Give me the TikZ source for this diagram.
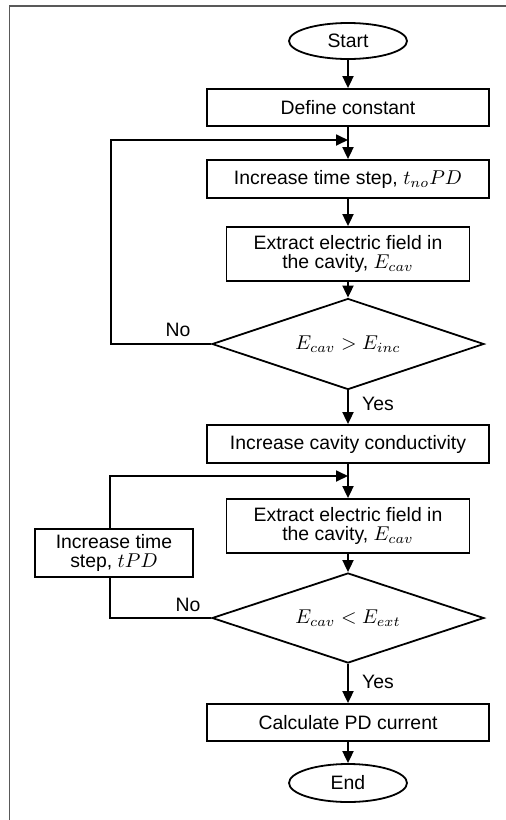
\documentclass[tikz,border=0pt]{standalone}
\usepackage{fontspec}
\setmainfont{Liberation Sans}
\usepackage{tikz}
\usetikzlibrary{shapes.geometric}
\usetikzlibrary{arrows.meta}
\tikzset{>={Triangle[length=6pt,width=5.5pt]}}
\tikzset{
  stepbox/.style={draw, line width=0.9pt, rectangle, align=center, inner sep=0pt,
    minimum height=18.5pt, font=\fontsize{9.7}{9.8}\selectfont},
  endbox/.style={draw, line width=0.9pt, ellipse, inner sep=0pt, minimum width=59pt,
    minimum height=18pt, font=\fontsize{9.7}{9.8}\selectfont},
  testbox/.style={draw, line width=0.9pt, diamond, inner sep=0pt, aspect=3,
    minimum width=136pt, minimum height=45.5pt, font=\fontsize{9.7}{9.8}\selectfont},
  flow/.style={line width=0.9pt, ->},
  answer/.style={font=\fontsize{9.7}{9.8}\selectfont}
}

\begin{document}
\begin{tikzpicture}[x=0.5pt, y=-0.5pt]
                \useasboundingbox (0,0) rectangle (506,820);
                % page frame
                \draw[black!65, line width=0.8pt] (9.5,820) -- (9.5,6) -- (506,6);

                % main column
                \node[endbox] (start) at (348,41) {Start};
                \node[stepbox, minimum width=141pt] (define) at (348,107.5) {Define constant};
                \node[stepbox, minimum width=141pt, minimum height=19pt] (tnopd) at (348,179) {Increase time step, $t_{no}PD$};
                \node[stepbox, minimum width=121.5pt, minimum height=27pt] (field1) at (348,254) {Extract electric field in\\the cavity, $E_{cav}$};
                \node[testbox] (inc) at (348,344) {$E_{cav} > E_{inc}$};
                \node[stepbox, minimum width=141pt, minimum height=19pt] (sigma) at (348,444) {Increase cavity conductivity};
                \node[stepbox, minimum width=121.5pt, minimum height=27pt] (field2) at (348,526) {Extract electric field in\\the cavity, $E_{cav}$};
                \node[testbox, minimum height=45pt] (ext) at (348,618) {$E_{cav} < E_{ext}$};
                \node[stepbox, minimum width=141pt] (pd) at (348,722.5) {Calculate PD current};
                \node[endbox, minimum height=19pt] (end) at (348,783) {End};

                % side box
                \node[stepbox, minimum width=79pt, minimum height=24pt] (tpd) at (114,553) {Increase time\\step, $tPD$};

                % joins and rails
                \coordinate (join1) at (348,140);
                \coordinate (join2) at (348,476);
                \coordinate (rail1) at (111,0);
                \coordinate (rail2) at (110,0);

                % start to define
                \draw[flow] (start) -- (define);
                % define to tnopd
                \draw[flow] (define) -- (tnopd);
                % tnopd to field1
                \draw[flow] (tnopd) -- (field1);
                % field1 to inc
                \draw[flow] (field1) -- (inc);
                % inc to tnopd (No)
                \draw[flow] (inc.west) -- (inc.west -| rail1) |- (join1);
                % inc to sigma (Yes)
                \draw[flow] (inc) -- (sigma);
                % sigma to field2
                \draw[flow] (sigma) -- (field2);
                % field2 to ext
                \draw[flow] (field2) -- (ext);
                % ext to tpd (No)
                \draw[line width=0.9pt] (ext.west) -- (ext.west -| rail2) -- (tpd.south -| rail2);
                % tpd to field2
                \draw[flow] (tpd.north -| rail2) |- (join2);
                % ext to pd (Yes)
                \draw[flow] (ext) -- (pd);
                % pd to end
                \draw[flow] (pd) -- (end);

                % answers
                \node[answer] (no1) at (178,330) {No};
                \node[answer] (yes1) at (378,404) {Yes};
                \node[answer] (no2) at (188,605) {No};
                \node[answer] (yes2) at (378,682) {Yes};
            \end{tikzpicture}
\end{document}
